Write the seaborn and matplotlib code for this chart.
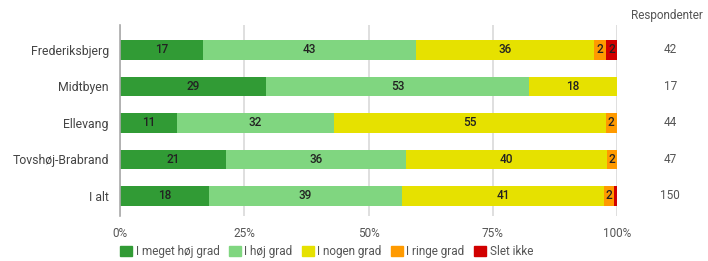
import numpy as np
import pandas as pd
import matplotlib
matplotlib.use('Agg')
import matplotlib.pyplot as plt
import seaborn as sns

## Data (percent of respondents per area)
areas = ['Frederiksbjerg', 'Midtbyen', 'Ellevang', 'Tovshøj-Brabrand', 'I alt']
levels = ['I meget høj grad', 'I høj grad', 'I nogen grad', 'I ringe grad', 'Slet ikke']
meget_hoej = [16.7, 29.4, 11.4, 21.3, 18.0]
hoej = [42.9, 52.9, 31.7, 36.2, 38.7]
nogen = [35.7, 17.6, 54.6, 40.4, 40.7]
ringe = [2.4, 0.0, 2.3, 2.1, 2.0]
slet_ikke = [2.4, 0.0, 0.0, 0.0, 0.7]
respondents = [42, 17, 44, 47, 150]

colors = ['#319b35', '#80d680', '#e6e100', '#ff9a00', '#d10000']

sns.set_theme(style='white')
plt.rcParams['font.family'] = ['Roboto', 'DejaVu Sans']

fig = plt.figure(figsize=(7.08, 2.61), dpi=100)
ax = fig.add_axes([120 / 708, 1 - 216 / 261, 497 / 708, 191 / 261])

# Build a long table with cumulative shares for the stacked look
series = [meget_hoej, hoej, nogen, ringe, slet_ikke]
shares = np.array(series)
cum = shares.cumsum(axis=0)
rows = []
for k, lvl in enumerate(levels):
    for i, area in enumerate(areas):
        rows.append({'area': area, 'level': lvl, 'share': shares[k, i],
                     'cum': cum[k, i], 'start': cum[k, i] - shares[k, i]})
df = pd.DataFrame(rows)

# Draw from the last level backwards so earlier levels sit on top
for k in range(len(levels) - 1, -1, -1):
    sub = df[df.level == levels[k]]
    sns.barplot(data=sub, x='cum', y='area', order=areas, color=colors[k],
                orient='h', width=0.53, linewidth=0, saturation=1, ax=ax)

# Value labels in each segment
for _, r in df.iterrows():
    if r.share >= 1.5:
        ax.text(r.start + r.share / 2, areas.index(r.area), f'{round(r.share):d}',
                ha='center', va='center', fontsize=8.5, color='#222222',
                fontweight='medium')

# Respondent counts to the right
for i, n in enumerate(respondents):
    ax.text(1.107, i, str(n), transform=ax.get_yaxis_transform(),
            ha='center', va='center', fontsize=8.5, color='#555555')
ax.text(1.1, -0.95, 'Respondenter', transform=ax.get_yaxis_transform(),
        ha='center', va='center', fontsize=8.5, color='#555555', clip_on=False)

ax.set_xlim(0, 100)
ax.set_ylim(4.55, -0.685)
ax.set_xticks([0, 25, 50, 75, 100])
ax.set_xticklabels(['0%', '25%', '50%', '75%', '100%'], fontsize=8.5, color='#555555')
ax.tick_params(axis='x', length=0, pad=8)
ax.tick_params(axis='y', length=0, pad=8, labelsize=8.8, labelcolor='#444444')
ax.set_xlabel('')
ax.set_ylabel('')
ax.grid(axis='x', color='#d9d9d9', linewidth=1.2)
ax.set_axisbelow(True)
for side in ['top', 'right', 'bottom']:
    ax.spines[side].set_visible(False)
ax.spines['left'].set_color('#aaaaaa')
ax.spines['left'].set_linewidth(1.2)

handles = [plt.Rectangle((0, 0), 1, 1, color=c) for c in colors]
leg = fig.legend(handles, levels, loc='lower left', bbox_to_anchor=(112 / 708, -0.02),
                 ncol=5, frameon=False, fontsize=8.5, handlelength=1.0, handleheight=1.0,
                 handletextpad=0.3, columnspacing=0.8, borderpad=0.2)
for t in leg.get_texts():
    t.set_color('#555555')

fig.savefig('out.png', dpi=100)
